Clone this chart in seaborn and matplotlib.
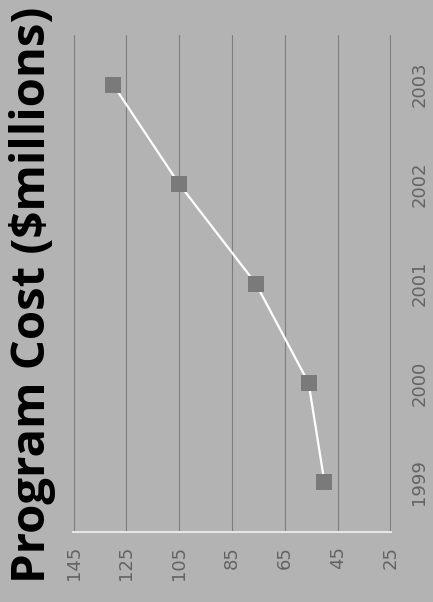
import numpy as np
import pandas as pd
import matplotlib
matplotlib.use("Agg")
import matplotlib.pyplot as plt
import seaborn as sns

years = [1999, 2000, 2001, 2002, 2003]
cost = [50, 56, 76, 105, 130]
cost_ticks = [145, 125, 105, 85, 65, 45, 25]

df = pd.DataFrame({"Year": years, "Cost": cost})

sns.set_style("white")
plt.rcParams["font.family"] = ["DejaVu Sans"]

bg = "#b3b3b3"
fig = plt.figure(figsize=(4.33, 6.02), dpi=100, facecolor=bg)
ax = fig.add_axes([73 / 433, 70 / 602, 318 / 433, 497 / 602])
ax.set_facecolor(bg)

# chart is drawn turned a quarter turn: cost runs across, years run up
sns.lineplot(data=df, x="Cost", y="Year", orient="y", sort=False, ax=ax,
             color="white", linewidth=1.6, marker="s", markersize=11,
             markerfacecolor="#7a7a7a", markeredgewidth=0)

ax.set_xlim(145.2, 24.8)
ax.set_ylim(1998.5, 2003.5)
ax.set_xticks(cost_ticks)
ax.set_xticklabels([str(v) for v in cost_ticks], rotation=90, color="#636363", fontsize=13)
ax.set_yticks(years)
ax.set_yticklabels([str(y) for y in years], rotation=90, va="center", color="#636363", fontsize=13)
ax.yaxis.tick_right()
ax.tick_params(axis="x", length=0, pad=10)
ax.tick_params(axis="y", length=0, pad=14)
ax.set_xlabel("")
ax.set_ylabel("")
ax.grid(axis="x", color="#7d7d7d", linewidth=0.8)
ax.grid(axis="y", visible=False)
for side in ["top", "right", "left"]:
    ax.spines[side].set_visible(False)
ax.spines["bottom"].set_color("#e6e6e6")
ax.spines["bottom"].set_linewidth(1.5)

fig.text(0.074, 0.51, "Program Cost ($millions)", rotation=90, ha="center", va="center",
         fontsize=34, fontweight="bold", color="black", family=["Open Sans", "DejaVu Sans"])

fig.savefig("out.png", dpi=100, facecolor=bg)
